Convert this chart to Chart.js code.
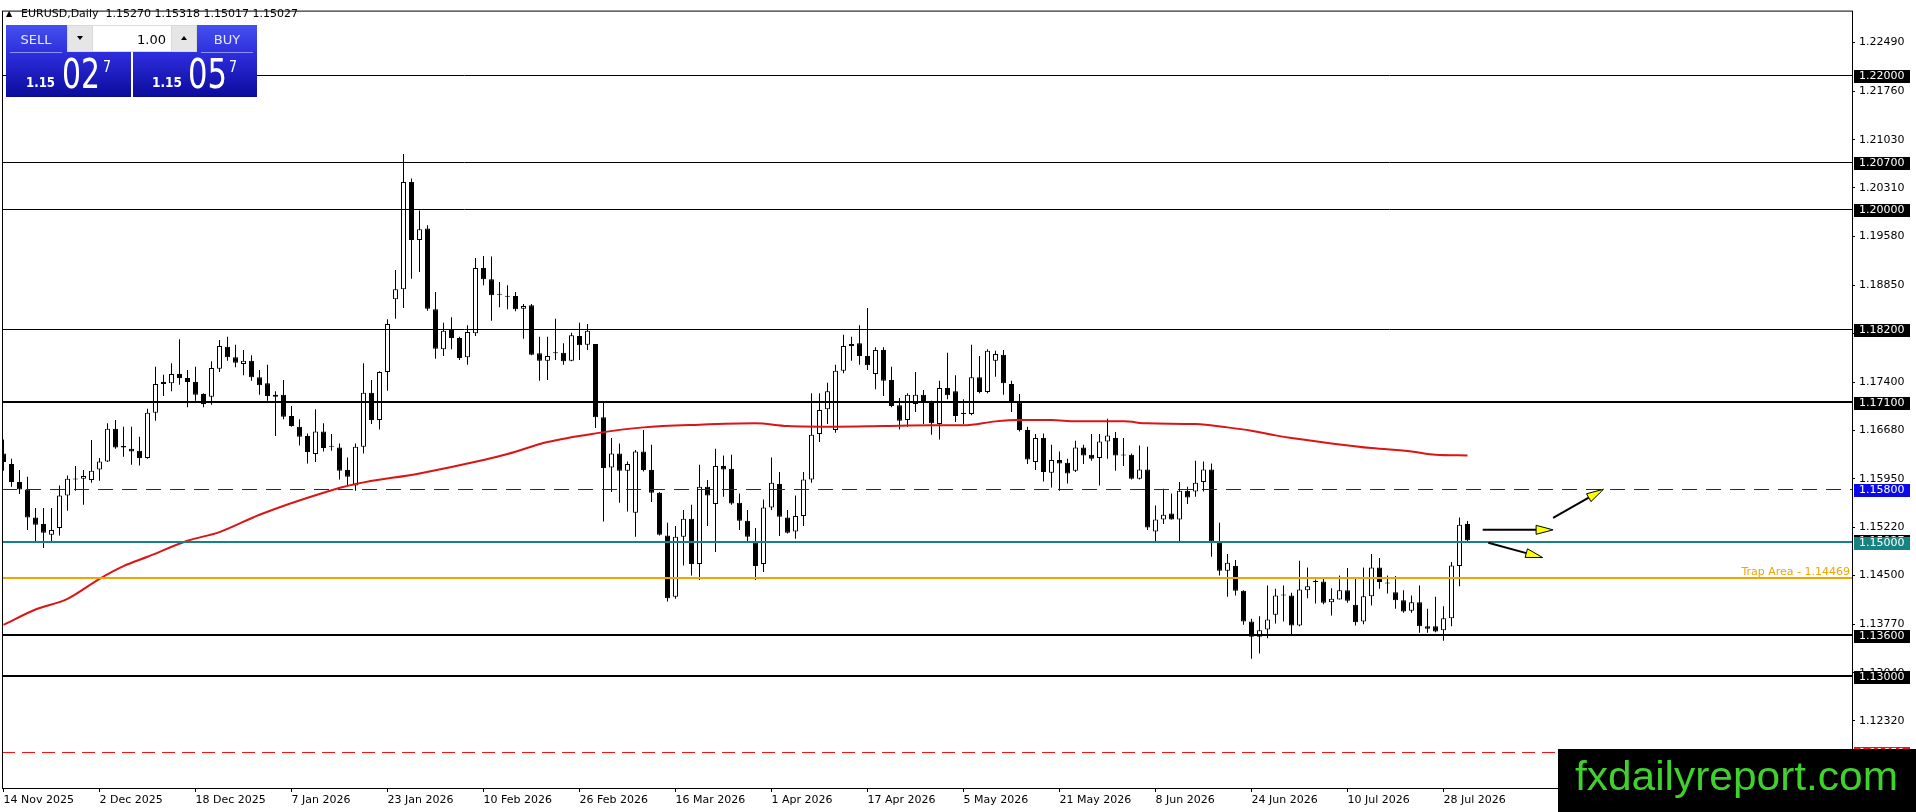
<!DOCTYPE html>
<html>
<head>
<meta charset="utf-8">
<script src="https://cdn.jsdelivr.net/npm/chart.js@4.4.1/dist/chart.umd.min.js"></script>
<style>
html,body{margin:0;padding:0;background:#fff;overflow:hidden}
canvas{display:block}
</style>
</head>
<body>
<canvas id="c" width="1916" height="812" style="width:1916px;height:812px"></canvas>
<script>
// ---------------- DATA ----------------
const headerText = 'EURUSD,Daily  1.15270 1.15318 1.15017 1.15027';

// daily candles, bar 0 = 14 Nov 2025 ... bar 183 = 31 Jul 2026
const openP = [
1.1633,1.1617,1.1590,1.1579,1.1537,1.1527,1.1511,1.1521,1.1570,1.1594,
1.1595,1.1593,1.1609,1.1621,1.1670,1.1644,1.1640,1.1637,1.1626,1.1694,
1.1737,1.1738,1.1752,1.1746,1.1740,1.1722,1.1718,1.1760,1.1793,1.1777,
1.1767,1.1772,1.1747,1.1738,1.1718,1.1721,1.1689,1.1673,1.1659,1.1632,
1.1666,1.1644,1.1642,1.1608,1.1585,1.1643,1.1724,1.1683,1.1755,1.1864,
1.1879,1.2040,1.1953,1.1970,1.1849,1.1789,1.1818,1.1806,1.1777,1.1813,
1.1911,1.1894,1.1872,1.1869,1.1869,1.1850,1.1855,1.1783,1.1772,1.1784,
1.1784,1.1772,1.1809,1.1796,1.1797,1.1687,1.1612,1.1633,1.1607,1.1544,
1.1636,1.1608,1.1574,1.1510,1.1418,1.1508,1.1535,1.1467,1.1583,1.1557,
1.1614,1.1610,1.1559,1.1532,1.1499,1.1467,1.1552,1.1587,1.1537,1.1516,
1.1539,1.1594,1.1662,1.1699,1.1668,1.1757,1.1794,1.1798,1.1779,1.1752,
1.1788,1.1743,1.1705,1.1683,1.1707,1.1721,1.1711,1.1677,1.1731,1.1726,
1.1693,1.1692,1.1747,1.1725,1.1772,1.1781,1.1737,1.1709,1.1668,1.1620,
1.1656,1.1604,1.1623,1.1619,1.1607,1.1642,1.1631,1.1626,1.1651,1.1656,
1.1631,1.1631,1.1595,1.1609,1.1516,1.1534,1.1543,1.1534,1.1577,1.1576,
1.1590,1.1609,1.1501,1.1457,1.1464,1.1427,1.1381,1.1358,1.1369,1.1391,
1.1420,1.1420,1.1375,1.1428,1.1441,1.1441,1.1410,1.1414,1.1428,1.1406,
1.1381,1.1419,1.1462,1.1439,1.1425,1.1413,1.1397,1.1410,1.1374,1.1374,
1.1368,1.1386,1.1464,1.15270];
const highP = [
1.1654,1.1625,1.1608,1.1598,1.1551,1.1551,1.1551,1.1585,1.1600,1.1614,
1.1608,1.1653,1.1626,1.1678,1.1683,1.1673,1.1673,1.1658,1.1700,1.1763,
1.1751,1.1768,1.1804,1.1758,1.1763,1.1723,1.1771,1.1803,1.1808,1.1796,
1.1788,1.1780,1.1758,1.1766,1.1726,1.1743,1.1704,1.1684,1.1663,1.1699,
1.1678,1.1662,1.1648,1.1627,1.1648,1.1768,1.1743,1.1756,1.1834,1.1908,
1.2082,1.2045,1.1997,1.1975,1.1875,1.1829,1.1837,1.1808,1.1825,1.1926,
1.1929,1.1928,1.1890,1.1885,1.1875,1.1857,1.1857,1.1808,1.1808,1.1835,
1.1798,1.1814,1.1829,1.1827,1.1797,1.1709,1.1656,1.1648,1.1621,1.1638,
1.1668,1.1646,1.1575,1.1529,1.1524,1.1548,1.1556,1.1616,1.1593,1.1640,
1.1630,1.1631,1.1573,1.1548,1.1521,1.1564,1.1627,1.1605,1.1548,1.1570,
1.1605,1.1723,1.1723,1.1739,1.1766,1.1811,1.1808,1.1825,1.1851,1.1792,
1.1792,1.1763,1.1716,1.1723,1.1755,1.1728,1.1712,1.1742,1.1784,1.1750,
1.1714,1.1796,1.1779,1.1789,1.1787,1.1788,1.1742,1.1722,1.1673,1.1662,
1.1663,1.1646,1.1636,1.1625,1.1652,1.1646,1.1662,1.1662,1.1685,1.1665,
1.1656,1.1633,1.1645,1.1643,1.1555,1.1580,1.1573,1.1590,1.1583,1.1622,
1.1621,1.1618,1.1529,1.1482,1.1473,1.1428,1.1385,1.1389,1.1435,1.1430,
1.1435,1.1424,1.1472,1.1462,1.1444,1.1446,1.1431,1.1450,1.1461,1.1445,
1.1462,1.1482,1.1476,1.1450,1.1449,1.1428,1.1420,1.1435,1.1400,1.1418,
1.1404,1.1470,1.1537,1.15318];
const lowP = [
1.1607,1.1583,1.1572,1.1518,1.1501,1.1491,1.1501,1.1510,1.1547,1.1577,
1.1556,1.1589,1.1592,1.1620,1.1640,1.1628,1.1616,1.1615,1.1625,1.1682,
1.1719,1.1726,1.1736,1.1702,1.1712,1.1702,1.1706,1.1755,1.1772,1.1762,
1.1750,1.1742,1.1721,1.1712,1.1659,1.1684,1.1673,1.1645,1.1618,1.1620,
1.1636,1.1637,1.1594,1.1585,1.1577,1.1633,1.1677,1.1669,1.1727,1.1835,
1.1851,1.1895,1.1905,1.1847,1.1775,1.1779,1.1789,1.1773,1.1766,1.1809,
1.1885,1.1832,1.1852,1.1849,1.1846,1.1805,1.1780,1.1742,1.1743,1.1773,
1.1766,1.1771,1.1773,1.1788,1.1671,1.1531,1.1575,1.1559,1.1546,1.1508,
1.1606,1.1560,1.1510,1.1411,1.1415,1.1465,1.1450,1.1443,1.1524,1.1485,
1.1568,1.1556,1.1518,1.1500,1.1443,1.1455,1.1548,1.1509,1.1513,1.1505,
1.1524,1.1589,1.1650,1.1677,1.1664,1.1753,1.1772,1.1766,1.1758,1.1729,
1.1719,1.1702,1.1669,1.1673,1.1695,1.1677,1.1661,1.1654,1.1714,1.1680,
1.1677,1.1690,1.1723,1.1723,1.1748,1.1721,1.1695,1.1666,1.1617,1.1608,
1.1591,1.1582,1.1577,1.1588,1.1605,1.1617,1.1622,1.1585,1.1625,1.1607,
1.1614,1.1594,1.1594,1.1518,1.1501,1.1527,1.1534,1.1501,1.1557,1.1568,
1.1576,1.1478,1.1450,1.1418,1.1420,1.1376,1.1325,1.1333,1.1356,1.1378,
1.1381,1.1360,1.1374,1.1416,1.1408,1.1407,1.1390,1.1414,1.1409,1.1375,
1.1377,1.1405,1.1430,1.1423,1.1400,1.1394,1.1394,1.1364,1.1364,1.1365,
1.1352,1.1374,1.1434,1.15017];
const closeP = [
1.1620,1.1590,1.1579,1.1537,1.1526,1.1514,1.1518,1.1570,1.1595,1.1595,
1.1599,1.1607,1.1621,1.1670,1.1642,1.1642,1.1636,1.1626,1.1694,1.1737,
1.1740,1.1752,1.1746,1.1740,1.1721,1.1707,1.1761,1.1794,1.1777,1.1769,
1.1772,1.1747,1.1735,1.1719,1.1721,1.1688,1.1674,1.1658,1.1635,1.1666,
1.1641,1.1643,1.1607,1.1598,1.1643,1.1724,1.1683,1.1755,1.1827,1.1879,
1.2040,1.1953,1.1969,1.1850,1.1790,1.1817,1.1806,1.1776,1.1815,1.1911,
1.1894,1.1870,1.1871,1.1868,1.1849,1.1854,1.1781,1.1772,1.1779,1.1783,
1.1771,1.1810,1.1795,1.1817,1.1687,1.1611,1.1633,1.1607,1.1617,1.1636,
1.1608,1.1574,1.1511,1.1416,1.1508,1.1535,1.1467,1.1583,1.1570,1.1614,
1.1609,1.1558,1.1532,1.1508,1.1464,1.1552,1.1589,1.1538,1.1514,1.1539,
1.1594,1.1661,1.1698,1.1726,1.1757,1.1794,1.1797,1.1779,1.1765,1.1788,
1.1742,1.1704,1.1682,1.1721,1.1721,1.1710,1.1678,1.1731,1.1720,1.1689,
1.1692,1.1747,1.1725,1.1787,1.1782,1.1738,1.1709,1.1668,1.1624,1.1656,
1.1605,1.1623,1.1618,1.1603,1.1642,1.1630,1.1625,1.1651,1.1660,1.1630,
1.1630,1.1595,1.1609,1.1522,1.1534,1.1541,1.1534,1.1577,1.1567,1.1589,
1.1609,1.1501,1.1457,1.1469,1.1427,1.1381,1.1358,1.1368,1.1384,1.1420,
1.1421,1.1375,1.1429,1.1434,1.1440,1.1409,1.1415,1.1428,1.1412,1.1380,
1.1419,1.1462,1.1440,1.1438,1.1413,1.1396,1.1410,1.1374,1.1370,1.1366,
1.1386,1.1465,1.1526,1.15027];

// moving average (red line) read at these bars
const maBars = [0,4,8,12,15,18,23,27,32,40,44,52,60,63,68,74,80,87,94,98,104,110,116,120,124,127,131,134,140,143,149,153,156,159,161,166,171,176,179,183];
const maVals = [1.1376,1.1399,1.1415,1.1445,1.1464,1.1478,1.1502,1.1515,1.1541,1.1574,1.1587,1.1603,1.1623,1.1632,1.1650,1.1663,1.1672,1.1676,1.1678,1.1674,1.1673,1.1674,1.1675,1.1675,1.1681,1.1683,1.1683,1.1681,1.1681,1.1678,1.1677,1.1672,1.1667,1.1660,1.1656,1.1648,1.1641,1.1636,1.1631,1.1630];

// axis ticks
const xTickBars = [0,12,24,36,48,60,72,84,96,108,120,132,144,156,168,180];
const xTickLabels = ['14 Nov 2025','2 Dec 2025','18 Dec 2025','7 Jan 2026','23 Jan 2026','10 Feb 2026','26 Feb 2026','16 Mar 2026','1 Apr 2026','17 Apr 2026','5 May 2026','21 May 2026','8 Jun 2026','24 Jun 2026','10 Jul 2026','28 Jul 2026'];
const yTickValues = [1.12320,1.13040,1.13770,1.14500,1.15220,1.15950,1.16680,1.17400,1.18130,1.18850,1.19580,1.20310,1.21030,1.21760,1.22490];

// horizontal levels
const levelPrices = [1.22000,1.20700,1.20000,1.18200,1.17100,1.15800,1.15000,1.14469,1.13600,1.13000,1.11850];
const tagPrices   = [1.22000,1.20700,1.20000,1.18200,1.17100,1.15800,1.15027,1.15000,1.13600,1.13000,1.11850];
const trapLabel = 'Trap Area - 1.14469';
const trapPrice = 1.14469;

// arrows (bar, price) -> (bar, price)
const arrowFromBar   = [184.9, 193.7, 185.6];
const arrowFromPrice = [1.15184, 1.15362, 1.14991];
const arrowToBar     = [193.7, 200.0, 192.4];
const arrowToPrice   = [1.15184, 1.15792, 1.14768];

// trade panel texts
const sellLabel = 'SELL', buyLabel = 'BUY', lotText = '1.00';
const sellBig = ['1.15', '02', '7'];
const buyBig  = ['1.15', '05', '7'];
const watermark = 'fxdailyreport.com';

// ---------------- STYLES ----------------
const levelColors = ['#000','#000','#000','#000','#000','#1c1c96','#178282','#f5a300','#000','#000','#ff1010'];
const levelWidths = [1,1,1,1,2,1,2,2,2,2,1];
const levelDashes = [[],[],[],[],[],[15,9],[],[],[],[],[13,7]];
const tagColors   = ['#000','#000','#000','#000','#000','#0a0ae8','#000','#178282','#000','#000','#ff1010'];
const FONT = '"DejaVu Sans", Verdana, sans-serif';

// ---------------- BUILD ----------------
const wickData = highP.map((h, i) => ({x: i, y: [lowP[i], h]}));
const bodyData = openP.map((o, i) => ({x: i, y: [o, closeP[i]]}));
const bodyColors = openP.map((o, i) => closeP[i] > o ? '#ffffff' : '#000000');
const maData = maBars.map((b, i) => ({x: b, y: maVals[i]}));

function fitText(ctx, text, x, y, w) {
  const m = ctx.measureText(text).width;
  ctx.save();
  ctx.translate(x, y);
  ctx.scale(w / m, 1);
  ctx.fillText(text, 0, 0);
  ctx.restore();
}

function drawArrow(ctx, x0, y0, x1, y1) {
  const ang = Math.atan2(y1 - y0, x1 - x0), L = 17, W = 4.5;
  const c = Math.cos(ang), s = Math.sin(ang);
  const bx = x1 - L * c, by = y1 - L * s;
  ctx.setLineDash([]);
  ctx.strokeStyle = '#000'; ctx.lineWidth = 2;
  ctx.beginPath(); ctx.moveTo(x0, y0); ctx.lineTo(bx, by); ctx.stroke();
  ctx.beginPath();
  ctx.moveTo(x1, y1);
  ctx.lineTo(bx + W * s, by - W * c);
  ctx.lineTo(bx - W * s, by + W * c);
  ctx.closePath();
  ctx.fillStyle = '#ffff00'; ctx.fill();
  ctx.lineWidth = 1; ctx.stroke();
}

const overlay = {
  id: 'overlay',
  afterDatasetsDraw(chart) {
    const {ctx, chartArea: a, scales: {x, y}} = chart;
    ctx.save();
    ctx.beginPath(); ctx.rect(a.left, a.top, a.right - a.left, a.bottom - a.top); ctx.clip();
    levelPrices.forEach((p, i) => {
      const py = Math.round(y.getPixelForValue(p)) + (levelWidths[i] % 2 ? 0.5 : 0);
      ctx.strokeStyle = levelColors[i];
      ctx.lineWidth = levelWidths[i];
      ctx.setLineDash(levelDashes[i]);
      ctx.beginPath(); ctx.moveTo(a.left, py); ctx.lineTo(a.right, py); ctx.stroke();
    });
    ctx.setLineDash([]);
    // trap area label
    ctx.font = '11px ' + FONT;
    ctx.fillStyle = '#f5a300';
    ctx.textAlign = 'right'; ctx.textBaseline = 'alphabetic';
    ctx.fillText(trapLabel, a.right - 2, y.getPixelForValue(trapPrice) - 3);
    // arrows
    arrowFromBar.forEach((b, i) => {
      drawArrow(ctx, x.getPixelForValue(b), y.getPixelForValue(arrowFromPrice[i]),
                x.getPixelForValue(arrowToBar[i]), y.getPixelForValue(arrowToPrice[i]));
    });
    ctx.restore();
  },
  afterDraw(chart) {
    const {ctx, chartArea: a, scales: {y}} = chart;
    ctx.save();
    // frame
    ctx.strokeStyle = '#000'; ctx.lineWidth = 1; ctx.setLineDash([]);
    ctx.strokeRect(a.left + 0.5, a.top + 0.5, a.right - a.left, a.bottom - a.top);
    // price tags
    ctx.font = '11px ' + FONT;
    ctx.textAlign = 'left'; ctx.textBaseline = 'middle';
    tagPrices.forEach((p, i) => {
      const py = Math.round(y.getPixelForValue(p));
      ctx.fillStyle = tagColors[i];
      ctx.fillRect(a.right + 2, py - 5, 56, 13);
      ctx.fillStyle = '#fff';
      ctx.fillText(p.toFixed(5), a.right + 7, py + 1.5);
    });
    // header
    ctx.fillStyle = '#000';
    ctx.textBaseline = 'alphabetic';
    ctx.font = '8px ' + FONT;
    ctx.fillText('\u25B2', 6, 16);
    ctx.font = '11px ' + FONT;
    ctx.fillText(headerText, 21, 17);
    // trade panel
    const grad = ctx.createLinearGradient(0, 25, 0, 97);
    grad.addColorStop(0, '#4450f0');
    grad.addColorStop(0.45, '#2a2ad8');
    grad.addColorStop(1, '#0b0b9a');
    ctx.fillStyle = grad;
    ctx.fillRect(6, 25, 125, 72);
    ctx.fillRect(133, 25, 124, 72);
    ctx.fillStyle = '#ffffff';
    ctx.fillRect(131, 52, 2, 45);
    // separators under SELL / BUY
    ctx.fillStyle = '#8a92f2';
    ctx.fillRect(10, 52, 52, 1);
    ctx.fillRect(201, 52, 52, 1);
    // lot control
    ctx.fillStyle = '#d9d9d9';
    ctx.fillRect(67, 25, 130, 27);
    ctx.fillStyle = '#ffffff';
    ctx.fillRect(93, 26, 78, 25);
    ctx.fillStyle = '#e6e6e6';
    ctx.fillRect(68, 26, 24, 25);
    ctx.fillRect(172, 26, 24, 25);
    ctx.fillStyle = '#000';
    ctx.beginPath(); ctx.moveTo(77, 36); ctx.lineTo(83, 36); ctx.lineTo(80, 40); ctx.closePath(); ctx.fill();
    ctx.beginPath(); ctx.moveTo(181, 40); ctx.lineTo(187, 40); ctx.lineTo(184, 36); ctx.closePath(); ctx.fill();
    ctx.font = '13px ' + FONT;
    ctx.textAlign = 'right';
    ctx.fillText(lotText, 166, 44);
    ctx.textAlign = 'center';
    ctx.fillStyle = '#e6eaff';
    ctx.fillText(sellLabel, 36, 44);
    ctx.fillText(buyLabel, 227, 44);
    // prices
    ctx.textAlign = 'left';
    ctx.fillStyle = '#ffffff';
    ctx.font = 'bold 14px ' + FONT;
    fitText(ctx, sellBig[0], 26, 87, 29);
    fitText(ctx, buyBig[0], 152, 87, 30);
    ctx.font = '40px ' + FONT;
    fitText(ctx, sellBig[1], 62, 88, 38);
    fitText(ctx, buyBig[1], 188, 88, 39);
    ctx.font = '15px ' + FONT;
    fitText(ctx, sellBig[2], 103, 72, 8);
    fitText(ctx, buyBig[2], 229, 72, 8);
    // watermark
    ctx.fillStyle = '#000';
    ctx.fillRect(1558, 749, 358, 63);
    ctx.fillStyle = '#3fd22c';
    ctx.font = '40px "Liberation Sans", Arial, sans-serif';
    fitText(ctx, watermark, 1575, 790, 323);
    ctx.restore();
  }
};

new Chart(document.getElementById('c'), {
  type: 'bar',
  data: {
    datasets: [
      {type: 'line', data: maData, borderColor: '#dc1414', borderWidth: 2, pointRadius: 0,
       cubicInterpolationMode: 'monotone', order: 1},
      {type: 'bar', data: bodyData, backgroundColor: bodyColors, borderColor: '#000', borderWidth: 1,
       borderSkipped: false, barThickness: 5, grouped: false, minBarLength: 1, inflateAmount: 0, order: 2},
      {type: 'bar', data: wickData, backgroundColor: '#000', borderWidth: 0, barThickness: 1,
       grouped: false, inflateAmount: 0, order: 3}
    ]
  },
  options: {
    responsive: false,
    animation: false,
    events: [],
    layout: {padding: {left: 2, top: 2, right: 0, bottom: 0}},
    plugins: {legend: {display: false}, tooltip: {enabled: false}},
    scales: {
      x: {
        type: 'linear', position: 'bottom', min: -0.1875, max: 231.0625, offset: false,
        afterBuildTicks: s => { s.ticks = xTickBars.map(v => ({value: v})); },
        afterFit: s => { s.height = 24; },
        grid: {drawOnChartArea: false, drawTicks: true, tickLength: 4, color: '#000', offset: false},
        border: {display: false},
        ticks: {autoSkip: false, maxRotation: 0, minRotation: 0, align: 'start', padding: 2, color: '#000',
                font: {family: 'DejaVu Sans', size: 11},
                callback: v => { const i = xTickBars.indexOf(v); return i >= 0 ? xTickLabels[i] : ''; }}
      },
      y: {
        type: 'linear', position: 'right', min: 1.113135, max: 1.229683,
        afterBuildTicks: s => { s.ticks = yTickValues.map(v => ({value: v})); },
        afterFit: s => { s.width = 64; },
        grid: {drawOnChartArea: false, drawTicks: true, tickLength: 3, color: '#000'},
        border: {display: false},
        ticks: {autoSkip: false, padding: 4, color: '#000', font: {family: 'DejaVu Sans', size: 11},
                callback: v => Number(v).toFixed(5)}
      }
    }
  },
  plugins: [overlay]
});
</script>
</body>
</html>
